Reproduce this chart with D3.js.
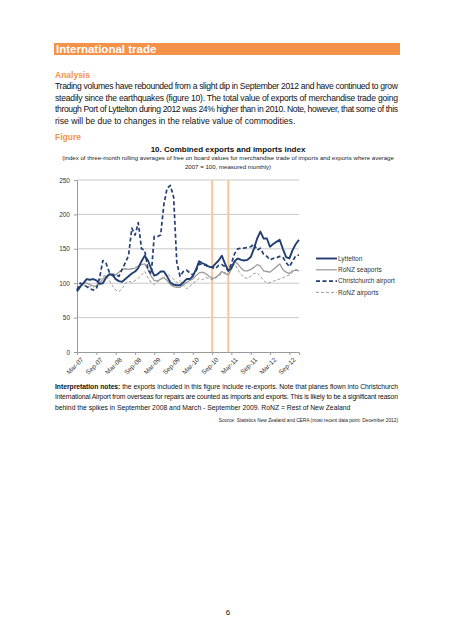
<!DOCTYPE html>
<html><head><meta charset="utf-8">
<script src="https://cdn.jsdelivr.net/npm/d3@7/dist/d3.min.js"></script>
<style>
html,body{margin:0;padding:0;background:#fff;}
svg{display:block;font-family:"Liberation Sans",Arial,sans-serif;}
</style></head>
<body>
<svg id="page" width="453" height="640"></svg>
<script>
// ---------- DATA ----------
const startMonth = "2007-03";   // first monthly observation (Mar-07)
const endMonth = "2012-12";     // last monthly observation (Dec-12)
const seriesNames = ["Lyttelton", "RoNZ seaports", "Christchurch airport", "RoNZ airports"];
const lyttelton = [88,95,100,106,105,106,104,99,100,108,113,112,106,103,102,106,110,114,117,122,132,140,133,121,111,113,117,117,110,101,98,97,97,101,106,106,110,120,132,129,127,124,123,128,133,140,128,118,122,132,136,134,133,134,138,150,165,175,165,165,153,157,160,163,150,138,136,148,157,163];
const ronzSeaports = [92,96,100,100,98,96,95,100,106,110,112,114,112,116,120,121,120,121,122,125,127,128,120,110,104,103,106,108,104,98,95,94,94,97,101,104,106,111,115,116,114,110,107,108,112,117,114,112,120,132,128,122,118,118,120,123,127,125,118,117,116,120,124,128,120,116,114,118,119,118];
const chchAirport = [90,100,98,95,92,90,92,108,133,129,116,111,112,110,120,130,140,180,170,188,150,148,120,113,168,168,170,215,238,242,225,130,110,117,119,115,112,118,128,127,126,124,123,121,126,127,124,118,128,143,150,151,151,152,153,157,148,151,142,139,134,136,137,139,138,130,124,132,140,141];
const ronzAirports = [92,100,98,95,95,94,97,104,110,112,104,96,90,88,92,100,103,101,104,107,112,117,108,101,98,102,105,110,114,110,106,101,104,97,92,95,100,103,107,105,108,107,105,107,110,114,116,113,120,128,120,113,108,107,110,114,115,110,104,100,101,103,104,106,108,110,112,116,120,119];
const xTickLabels = ["Mar-07","Sep-07","Mar-08","Sep-08","Mar-09","Sep-09","Mar-10","Sep-10","Mar-11","Sep-11","Mar-12","Sep-12"];
const yTicks = [0,50,100,150,200,250];
const quakeMonths = ["Sep-10","Feb-11"];

const headerText = "International trade";
const analysisLines = [
 "Trading volumes have rebounded from a slight dip in September 2012 and have continued to grow",
 "steadily since the earthquakes (figure 10). The total value of exports of merchandise trade going",
 "through Port of Lyttelton during 2012 was 24% higher than in 2010. Note, however, that some of this",
 "rise will be due to changes in the relative value of commodities."
];
const chartTitle = "10.  Combined exports and imports index";
const subtitleLines = [
 "(index of three-month rolling averages of free on board values for merchandise trade of imports and exports where average",
 "2007 = 100, measured monthly)"
];
const notesLines = [
 ["Interpretation notes:", " the exports included in this figure include re-exports.  Note that planes flown into Christchurch"],
 ["", "International Airport from overseas for repairs are counted as imports and exports.  This is likely to be a significant reason"],
 ["", "behind the spikes in September 2008 and March - September 2009. RoNZ = Rest of New Zealand"]
];
const sourceText = "Source: Statistics New Zealand and CERA (most recent data point: December 2012)";
const pageNumber = "6";

// ---------- DRAW ----------
const svg = d3.select("#page");
const orange = "#F5924A";
const navy = "#233F72";
const grey = "#9C9C9C";

// header bar
svg.append("rect").attr("x",54).attr("y",43).attr("width",346).attr("height",12).attr("fill",orange);
svg.append("text").attr("x",56).attr("y",53).attr("fill","#fff").attr("font-weight","bold")
  .attr("font-size",11.5).text(headerText);

svg.append("text").attr("x",55).attr("y",77.5).attr("fill",orange).attr("font-weight","bold")
  .attr("font-size",8.5).text("Analysis");

analysisLines.forEach((t,i)=>{
  const tx = svg.append("text").attr("x",55).attr("y",89+i*11.7).attr("font-size",8.6).attr("fill","#111").text(t);
  if(i<analysisLines.length-1) tx.attr("textLength",343).attr("lengthAdjust","spacing");
});

svg.append("text").attr("x",55).attr("y",139.5).attr("fill",orange).attr("font-weight","bold")
  .attr("font-size",8.5).text("Figure");

svg.append("text").attr("x",228).attr("y",152).attr("text-anchor","middle").attr("font-weight","bold")
  .attr("font-size",8).attr("fill","#111").text(chartTitle);
subtitleLines.forEach((t,i)=>{
  svg.append("text").attr("x",228).attr("y",159.5+i*9.5).attr("text-anchor","middle")
    .attr("font-size",6.1).attr("fill","#222").text(t);
});

// chart
const months = d3.timeMonth.range(d3.timeParse("%Y-%m")(startMonth), d3.timeMonth.offset(d3.timeParse("%Y-%m")(endMonth),1));
const parseLbl = d3.timeParse("%b-%y");
const x = d3.scaleTime().domain([months[0], months[months.length-1]]).range([77,299]);
const y = d3.scaleLinear().domain([0,250]).range([352,180]);

const g = svg.append("g");
// grid
g.selectAll(".grid").data(yTicks.filter(d=>d>0)).join("line")
  .attr("x1",77).attr("x2",299).attr("y1",d=>y(d)).attr("y2",d=>y(d))
  .attr("stroke","#c9c9c9").attr("stroke-width",1);

// axes
const yAxis = d3.axisLeft(y).tickValues(yTicks).tickSize(3).tickPadding(4);
const ya = g.append("g").attr("transform","translate(77,0)").call(yAxis);
ya.select(".domain").attr("stroke","#9a9a9a");
ya.selectAll(".tick line").attr("stroke","#9a9a9a");
ya.selectAll("text").attr("font-size",6.5).attr("fill","#333").attr("font-family","Liberation Sans, Arial");

const xTickDates = xTickLabels.map(parseLbl);
const xAxis = d3.axisBottom(x).tickValues(xTickDates).tickSize(3).tickFormat((d,i)=>xTickLabels[i]);
const xa = g.append("g").attr("transform","translate(0,352)").call(xAxis);
xa.select(".domain").attr("stroke","#9a9a9a");
xa.selectAll(".tick line").attr("stroke","#9a9a9a");
xa.selectAll("text").attr("font-size",6.5).attr("fill","#333").attr("font-family","Liberation Sans, Arial")
  .attr("text-anchor","end").attr("dy",0).attr("transform","translate(2,4) rotate(-45)");

// quake lines
g.selectAll(".quake").data(quakeMonths.map(parseLbl)).join("line")
  .attr("x1",d=>x(d)).attr("x2",d=>x(d)).attr("y1",y(250)).attr("y2",y(0))
  .attr("stroke","#F3C79E").attr("stroke-width",2);

const line = d3.line().x((d,i)=>x(months[i])).y(d=>y(d));
const styles = [
  {data:ronzAirports, color:"#8e8e8e", w:0.9, dash:"3,2"},
  {data:ronzSeaports, color:grey, w:1.3, dash:null},
  {data:chchAirport, color:navy, w:1.7, dash:"4,2.5"},
  {data:lyttelton, color:navy, w:1.9, dash:null}
];
styles.forEach(s=>{
  g.append("path").datum(s.data).attr("d",line).attr("fill","none")
    .attr("stroke",s.color).attr("stroke-width",s.w).attr("stroke-dasharray",s.dash)
    .attr("stroke-linejoin","round");
});

// legend
const legStyles = [
  {name:seriesNames[0], color:navy, w:1.9, dash:null},
  {name:seriesNames[1], color:grey, w:1.3, dash:null},
  {name:seriesNames[2], color:navy, w:1.7, dash:"4,2.5"},
  {name:seriesNames[3], color:"#8e8e8e", w:0.9, dash:"3,2"}
];
legStyles.forEach((s,i)=>{
  const yy = 258.5 + i*11.3;
  svg.append("line").attr("x1",316).attr("x2",337).attr("y1",yy).attr("y2",yy)
    .attr("stroke",s.color).attr("stroke-width",s.w).attr("stroke-dasharray",s.dash);
  svg.append("text").attr("x",338).attr("y",yy+2.3).attr("font-size",6.5).attr("fill","#333").text(s.name);
});

// notes
notesLines.forEach((l,i)=>{
  const t = svg.append("text").attr("x",55).attr("y",388.5+i*10.8).attr("font-size",6.8).attr("fill","#111");
  if(l[0]) t.append("tspan").attr("font-weight","bold").text(l[0]);
  t.append("tspan").text(l[1]);
  if(i<notesLines.length-1) t.attr("textLength",343).attr("lengthAdjust","spacing");
});
svg.append("text").attr("x",398).attr("y",421.5).attr("text-anchor","end").attr("font-size",4.8)
  .attr("fill","#222").text(sourceText);

svg.append("text").attr("x",228).attr("y",615).attr("text-anchor","middle").attr("font-size",8)
  .attr("fill","#111").text(pageNumber);
</script>
</body></html>
